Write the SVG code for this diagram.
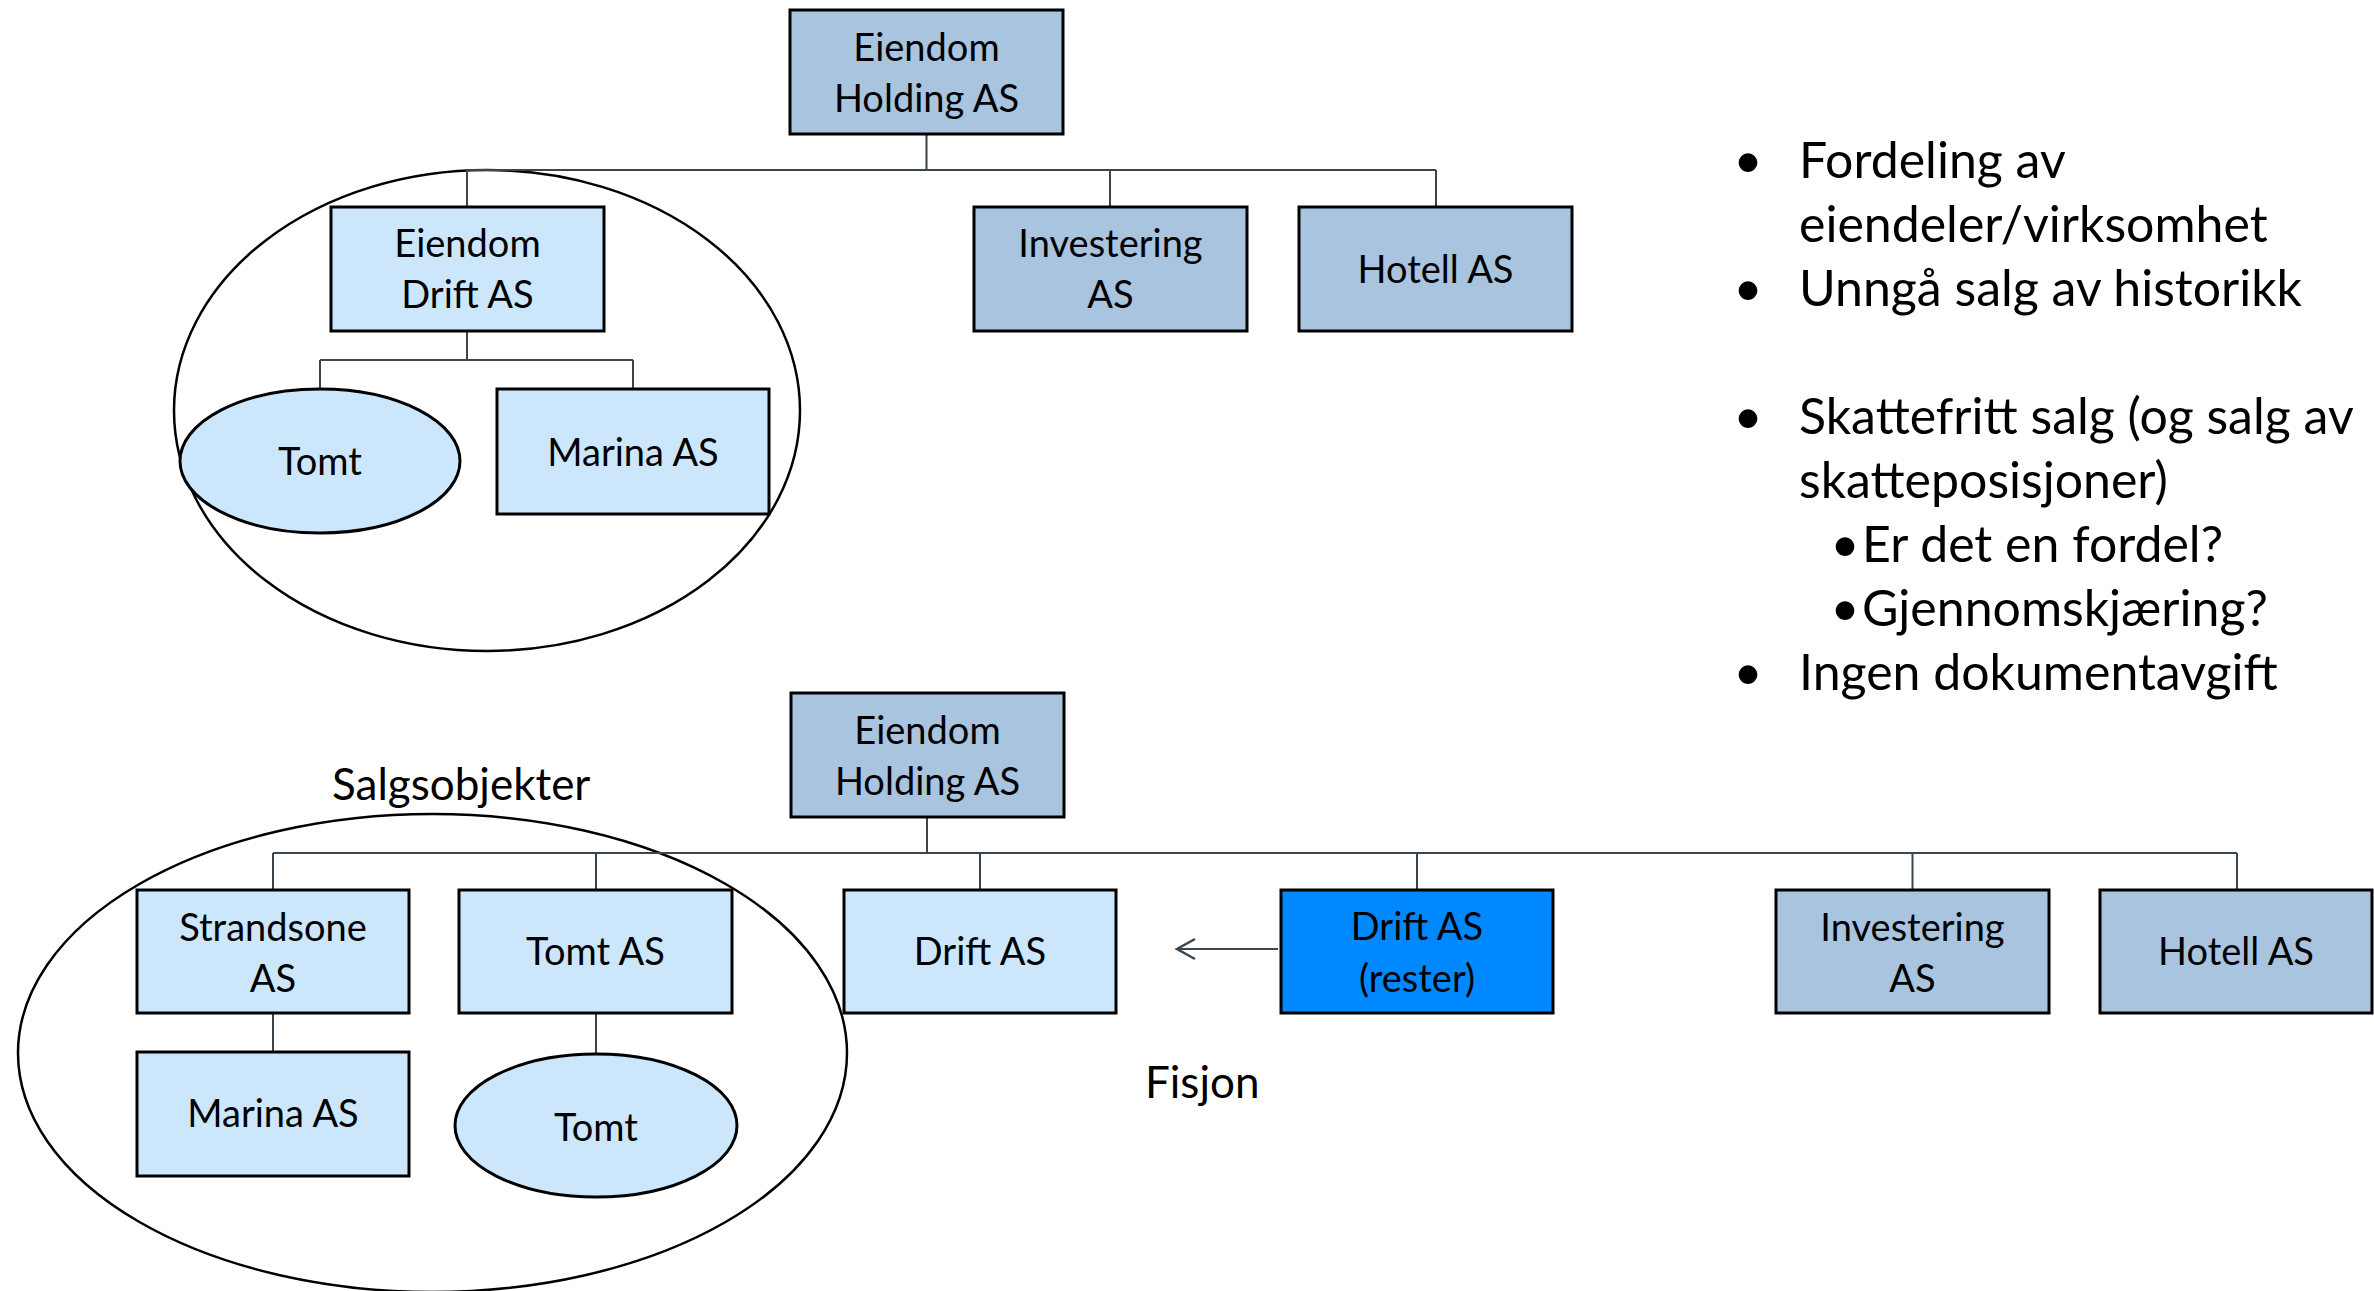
<svg xmlns="http://www.w3.org/2000/svg" width="2374" height="1291" viewBox="0 0 2374 1291">
<defs>
<style>
.t{font-family:Lato,"Open Sans","DejaVu Sans",sans-serif;fill:#000}
.n{font-size:38px;text-anchor:middle}
.b{font-size:50px}
.d{font-size:50px;text-anchor:middle}
.l{font-size:44px}
.dk{fill:#A9C4DE;stroke:#000;stroke-width:3}
.lt{fill:#CCE6FC;stroke:#000;stroke-width:3}
.br{fill:#0088FF;stroke:#000;stroke-width:3}
.grp{fill:none;stroke:#000;stroke-width:2.5}
.c{fill:none;stroke:#3B4550;stroke-width:2}
</style>
<marker id="arr" markerWidth="24" markerHeight="24" refX="20" refY="12" orient="auto" markerUnits="userSpaceOnUse">
<path d="M2,2 L20,12 L2,22" fill="none" stroke="#3B4550" stroke-width="2.5"/>
</marker>
</defs>
<rect width="2374" height="1291" fill="#fff"/>

<g id="group-top"><ellipse cx="487" cy="410.5" rx="313" ry="240.5" class="grp"/></g>
<g id="group-bottom"><ellipse cx="432.5" cy="1053" rx="414.5" ry="239" class="grp"/></g>

<g id="connectors">
<path class="c" d="M926.5,134 V170 M467,170 H1436 M467,170 V207 M1110,170 V206 M1436,170 V207"/>
<path class="c" d="M467,331 V360 M320,360 H633 M320,360 V389 M633,360 V389"/>
<path class="c" d="M927,817 V853 M273,853 H2237 M273,853 V890 M596,853 V890 M980,853 V890 M1417,853 V890 M1912.5,853 V890 M2237,853 V890"/>
<path class="c" d="M273,1013 V1052 M596,1013 V1054"/>
<path class="c" d="M1278,949 H1177" marker-end="url(#arr)"/>
</g>

<g id="n-holding-top"><rect x="790" y="10" width="273" height="124" class="dk"/>
<text class="t n" x="926.5" y="61">Eiendom</text><text class="t n" x="926.5" y="112">Holding AS</text></g>
<g id="n-eiendom-drift"><rect x="331" y="207" width="273" height="124" class="lt"/>
<text class="t n" x="467.5" y="257">Eiendom</text><text class="t n" x="467.5" y="308">Drift AS</text></g>
<g id="n-investering-top"><rect x="974" y="207" width="273" height="124" class="dk"/>
<text class="t n" x="1110.5" y="257">Investering</text><text class="t n" x="1110.5" y="308">AS</text></g>
<g id="n-hotell-top"><rect x="1299" y="207" width="273" height="124" class="dk"/>
<text class="t n" x="1435.5" y="283">Hotell AS</text></g>
<g id="n-tomt-top"><ellipse cx="320" cy="461" rx="140" ry="72" class="lt"/>
<text class="t n" x="320" y="475">Tomt</text></g>
<g id="n-marina-top"><rect x="497" y="389" width="272" height="125" class="lt"/>
<text class="t n" x="633" y="466">Marina AS</text></g>

<g id="n-holding-bottom"><rect x="791" y="693" width="273" height="124" class="dk"/>
<text class="t n" x="927.5" y="744">Eiendom</text><text class="t n" x="927.5" y="795">Holding AS</text></g>
<g id="n-strandsone"><rect x="137" y="890" width="272" height="123" class="lt"/>
<text class="t n" x="273" y="941">Strandsone</text><text class="t n" x="273" y="992">AS</text></g>
<g id="n-tomt-as"><rect x="459" y="890" width="273" height="123" class="lt"/>
<text class="t n" x="595.5" y="965">Tomt AS</text></g>
<g id="n-marina-bottom"><rect x="137" y="1052" width="272" height="124" class="lt"/>
<text class="t n" x="273" y="1127">Marina AS</text></g>
<g id="n-tomt-bottom"><ellipse cx="596" cy="1125.5" rx="141" ry="71.5" class="lt"/>
<text class="t n" x="596" y="1141">Tomt</text></g>
<g id="n-drift"><rect x="844" y="890" width="272" height="123" class="lt"/>
<text class="t n" x="980" y="965">Drift AS</text></g>
<g id="n-drift-rester"><rect x="1281" y="890" width="272" height="123" class="br"/>
<text class="t n" x="1417" y="940">Drift AS</text><text class="t n" x="1417" y="992">(rester)</text></g>
<g id="n-investering-bottom"><rect x="1776" y="890" width="273" height="123" class="dk"/>
<text class="t n" x="1912.5" y="941">Investering</text><text class="t n" x="1912.5" y="992">AS</text></g>
<g id="n-hotell-bottom"><rect x="2100" y="890" width="272" height="123" class="dk"/>
<text class="t n" x="2236" y="965">Hotell AS</text></g>

<g id="labels">
<text class="t l" x="332" y="800">Salgsobjekter</text>
<text class="t l" x="1145" y="1098">Fisjon</text>
</g>

<g id="bullets">
<text class="t d" x="1748" y="178">•</text><text class="t b" x="1799" y="178">Fordeling av</text>
<text class="t b" x="1799" y="242">eiendeler/virksomhet</text>
<text class="t d" x="1748" y="306">•</text><text class="t b" x="1799" y="306">Unngå salg av historikk</text>
<text class="t d" x="1748" y="434">•</text><text class="t b" x="1799" y="434">Skattefritt salg (og salg av</text>
<text class="t b" x="1799" y="498">skatteposisjoner)</text>
<text class="t d" x="1845" y="562">•</text><text class="t b" x="1862" y="562">Er det en fordel?</text>
<text class="t d" x="1845" y="626">•</text><text class="t b" x="1862" y="626">Gjennomskjæring?</text>
<text class="t d" x="1748" y="690">•</text><text class="t b" x="1799" y="690">Ingen dokumentavgift</text>
</g>
</svg>
